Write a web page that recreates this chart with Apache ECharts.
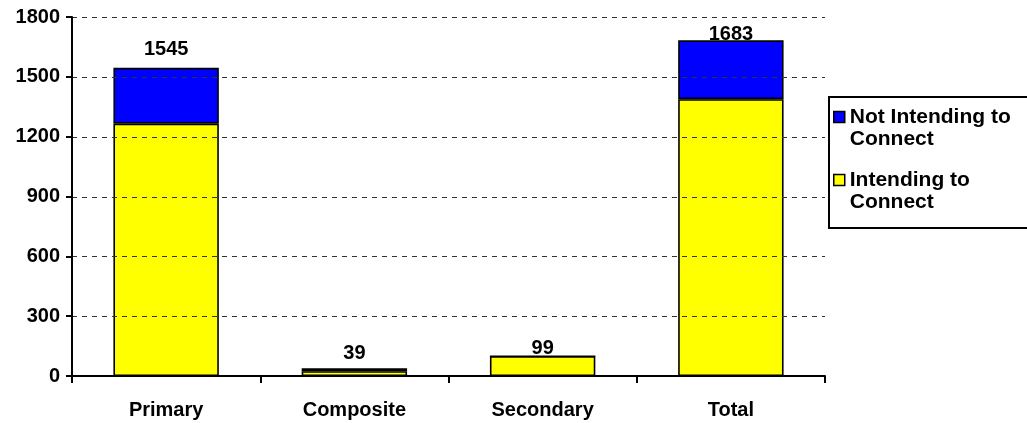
<!DOCTYPE html>
<html>
<head>
<meta charset="utf-8">
<style>
  html, body { margin: 0; padding: 0; background: #fff; }
  #chart { width: 1027px; height: 423px; }
</style>
<script src="https://cdn.jsdelivr.net/npm/echarts@6/dist/echarts.min.js"></script>
</head>
<body>
<div id="chart"></div>
<script>
// Schools by type, split by intention to connect
const categories = ['Primary', 'Composite', 'Secondary', 'Total'];
const intending = [1265, 24, 99, 1388];
const notIntending = [280, 15, 0, 295];
const yTicks = [0, 300, 600, 900, 1200, 1500, 1800];

// Gap between each total label and the top of its bar (px)
const labelGap = [8, 5, -3, -4];

const FONT = 'Liberation Sans, Arial, sans-serif';
const totals = categories.map((_, i) => intending[i] + notIntending[i]);

// Legend marker: a square at the top of a taller box so it sits beside the first text line
const legendIcon = 'path://M0,0L11,0L11,11L0,11Z M0,33L0.01,33';

// Dashed horizontal gridline at a y value, drawn across the plot and over the bars
function renderGridLine(params, api) {
  const cs = params.coordSys;
  const y = Math.round(api.coord([0, api.value(1)])[1]) + 0.5;
  return {
    type: 'line',
    shape: { x1: cs.x, y1: y, x2: cs.x + cs.width, y2: y },
    style: { stroke: '#333', lineWidth: 1, lineDash: [5, 5] },
    silent: true
  };
}

const chart = echarts.init(document.getElementById('chart'));
chart.setOption({
  animation: false,
  backgroundColor: '#fff',
  textStyle: { fontFamily: FONT },
  grid: { left: 72, right: 202, top: 17, bottom: 47, containLabel: false },
  legend: {
    orient: 'vertical',
    left: 829,
    top: 97,
    data: ['Not Intending to\nConnect', 'Intending to\nConnect'],
    icon: legendIcon,
    itemWidth: 11,
    itemHeight: 33,
    itemGap: 19,
    symbolKeepAspect: false,
    borderColor: '#000',
    borderWidth: 2,
    borderRadius: 0,
    padding: [9, 40, 15, 4],
    textStyle: { fontFamily: FONT, fontSize: 21, fontWeight: 'bold', color: '#000', lineHeight: 22 },
    itemStyle: { borderColor: '#000', borderWidth: 1.5 }
  },
  xAxis: {
    type: 'category',
    data: categories,
    axisLine: { lineStyle: { color: '#000', width: 2 } },
    axisTick: { show: true, length: 7, lineStyle: { color: '#000', width: 2 } },
    axisLabel: { color: '#000', fontSize: 20, fontWeight: 'bold', fontFamily: FONT, margin: 24 }
  },
  yAxis: {
    type: 'value',
    min: yTicks[0],
    max: yTicks[yTicks.length - 1],
    interval: yTicks[1] - yTicks[0],
    z: 12,
    axisLine: { show: true, lineStyle: { color: '#000', width: 2 } },
    axisTick: { show: true, length: 6, lineStyle: { color: '#000', width: 2 } },
    axisLabel: {
      color: '#000', fontSize: 20, fontWeight: 'bold', fontFamily: FONT, margin: 12,
      formatter: v => String(v)
    },
    splitLine: { show: false }
  },
  series: [
    {
      name: 'Intending to\nConnect',
      type: 'bar',
      stack: 'schools',
      barCategoryGap: '44%',
      data: intending,
      itemStyle: { color: '#ffff00', borderColor: '#000', borderWidth: 1.6 }
    },
    {
      name: 'Not Intending to\nConnect',
      type: 'bar',
      stack: 'schools',
      barCategoryGap: '44%',
      data: notIntending.map((v, i) => ({
        value: v,
        label: { distance: labelGap[i] }
      })),
      itemStyle: { color: '#0000ff', borderColor: '#000', borderWidth: 1.6 },
      label: {
        show: true,
        position: 'top',
        color: '#000',
        fontSize: 20,
        fontWeight: 'bold',
        fontFamily: FONT,
        formatter: p => String(totals[p.dataIndex])
      }
    },
    {
      name: 'gridlines',
      type: 'custom',
      z: 10,
      silent: true,
      clip: false,
      renderItem: renderGridLine,
      data: yTicks.slice(1).map(v => [categories[0], v])
    }
  ]
});
</script>
</body>
</html>
